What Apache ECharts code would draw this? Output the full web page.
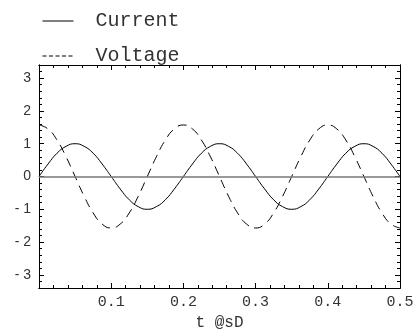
<!DOCTYPE html>
<html>
<head>
<meta charset="utf-8">
<script src="https://cdn.jsdelivr.net/npm/echarts@6/dist/echarts.min.js"></script>
<style>
  html, body { margin: 0; padding: 0; background: #fff; }
  #chart { width: 419px; height: 336px; }
</style>
</head>
<body>
<div id="chart"></div>
<script>
const times = [
  0, 0.0125, 0.025, 0.0375, 0.05, 0.0625, 0.075, 0.0875, 0.1, 0.1125,
  0.125, 0.1375, 0.15, 0.1625, 0.175, 0.1875, 0.2, 0.2125, 0.225, 0.2375,
  0.25, 0.2625, 0.275, 0.2875, 0.3, 0.3125, 0.325, 0.3375, 0.35, 0.3625,
  0.375, 0.3875, 0.4, 0.4125, 0.425, 0.4375, 0.45, 0.4625, 0.475, 0.4875, 0.5
];
const current = [
  0, 0.38, 0.71, 0.92, 1, 0.92, 0.71, 0.38, 0, -0.38,
  -0.71, -0.92, -1, -0.92, -0.71, -0.38, 0, 0.38, 0.71, 0.92,
  1, 0.92, 0.71, 0.38, 0, -0.38, -0.71, -0.92, -1, -0.92,
  -0.71, -0.38, 0, 0.38, 0.71, 0.92, 1, 0.92, 0.71, 0.38, 0
];
const voltage = [
  1.57, 1.45, 1.11, 0.6, 0, -0.6, -1.11, -1.45, -1.57, -1.45,
  -1.11, -0.6, 0, 0.6, 1.11, 1.45, 1.57, 1.45, 1.11, 0.6,
  0, -0.6, -1.11, -1.45, -1.57, -1.45, -1.11, -0.6, 0, 0.6,
  1.11, 1.45, 1.57, 1.45, 1.11, 0.6, 0, -0.6, -1.11, -1.45, -1.57
];
const xMajor = [0, 0.1, 0.2, 0.3, 0.4, 0.5];
const xMinor = [0.02, 0.04, 0.06, 0.08, 0.12, 0.14, 0.16, 0.18, 0.22, 0.24, 0.26, 0.28,
  0.32, 0.34, 0.36, 0.38, 0.42, 0.44, 0.46, 0.48];
const xLabels = [0.1, 0.2, 0.3, 0.4, 0.5];
const yMajor = [-3, -2, -1, 0, 1, 2, 3];
const yMinor = [-3.2, -2.8, -2.6, -2.4, -2.2, -1.8, -1.6, -1.4, -1.2, -0.8, -0.6, -0.4, -0.2,
  0.2, 0.4, 0.6, 0.8, 1.2, 1.4, 1.6, 1.8, 2.2, 2.4, 2.6, 2.8, 3.2];

const mono = "'Liberation Mono', 'DejaVu Sans Mono', monospace";
const sans = "'Liberation Sans', Arial, sans-serif";

function xAx(pos, ticks, len, labels) {
  return {
    type: "value", position: pos, min: 0, max: 0.5,
    axisLine: { show: true, onZero: false, lineStyle: { color: "#000", width: 1 } },
    axisTick: { show: true, inside: true, length: len, customValues: ticks, lineStyle: { color: "#000" } },
    axisLabel: labels
      ? { show: true, customValues: xLabels, fontFamily: mono, fontSize: 15, color: "#333",
          margin: 7, formatter: (v) => v.toFixed(1) }
      : { show: false },
    splitLine: { show: false },
  };
}
function yAx(pos, ticks, len, labels) {
  return {
    type: "value", position: pos, min: -3.4, max: 3.4,
    axisLine: { show: true, onZero: false, lineStyle: { color: "#000", width: 1 } },
    axisTick: { show: true, inside: true, length: len, customValues: ticks, lineStyle: { color: "#000" } },
    axisLabel: labels
      ? { show: true, customValues: yMajor, fontFamily: sans, fontSize: 14, color: "#333", margin: 8,
          formatter: (v) => (v < 0 ? "- " + Math.abs(v) : String(v)) }
      : { show: false },
    splitLine: { show: false },
  };
}

const xAxes = [
  xAx("bottom", xMajor, 5, true),
  xAx("bottom", xMinor, 3, false),
  xAx("top", xMajor, 5, false),
  xAx("top", xMinor, 3, false),
];
xAxes[0].name = "t @sD";
xAxes[0].nameLocation = "middle";
xAxes[0].nameGap = 26;
xAxes[0].nameTextStyle = { fontFamily: mono, fontSize: 16, color: "#333" };

const yAxes = [
  yAx("left", yMajor, 5, true),
  yAx("left", yMinor, 3, false),
  yAx("right", yMajor, 5, false),
  yAx("right", yMinor, 3, false),
];

const chart = echarts.init(document.getElementById("chart"), null, { renderer: "canvas" });
chart.setOption({
  animation: false,
  backgroundColor: "#fff",
  grid: { left: 39, right: 19, top: 65, bottom: 48 },
  legend: {
    orient: "vertical", left: 37, top: 6,
    itemWidth: 31, itemHeight: 14, itemGap: 15,
    selectedMode: false,
    textStyle: { fontFamily: mono, fontSize: 20, color: "#333", padding: [0, 0, 0, 17] },
    data: [
      { name: "Current", itemStyle: { opacity: 0 }, lineStyle: { type: "solid", width: 1 } },
      { name: "Voltage", itemStyle: { opacity: 0 }, lineStyle: { type: [4, 2.5], width: 1 } },
    ],
  },
  xAxis: xAxes,
  yAxis: yAxes,
  series: [
    {
      name: "Current", type: "line", smooth: 0.5, symbol: "none",
      data: times.map((t, i) => [t, current[i]]),
      lineStyle: { color: "#000", width: 1 },
      itemStyle: { color: "#000" },
      markLine: {
        silent: true, symbol: "none", label: { show: false },
        lineStyle: { color: "#777", width: 1.5, type: "solid" },
        data: [{ yAxis: 0 }],
      },
    },
    {
      name: "Voltage", type: "line", smooth: 0.5, symbol: "none",
      data: times.map((t, i) => [t, voltage[i]]),
      lineStyle: { color: "#000", width: 1, type: [9, 6] },
      itemStyle: { color: "#000" },
    },
  ],
});
</script>
</body>
</html>
